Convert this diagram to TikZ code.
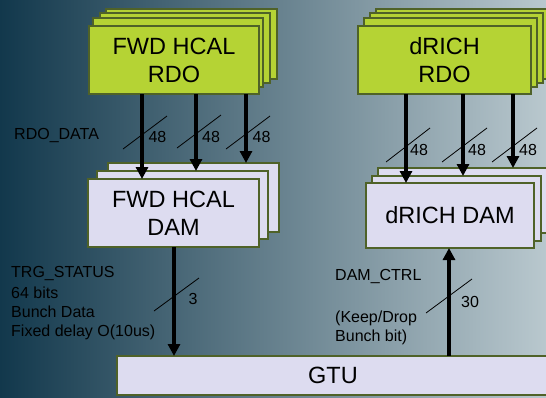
\documentclass[tikz,border=0pt]{standalone}
\usepackage{fontspec}
\setmainfont{Liberation Sans}
\usetikzlibrary{arrows.meta}
\definecolor{bgL}{HTML}{12384C}
\definecolor{bgM}{HTML}{62838F}
\definecolor{bgR}{HTML}{B9C8CE}
\definecolor{rdofill}{HTML}{B5D334}
\definecolor{boxline}{HTML}{4F6228}
\definecolor{damfill}{HTML}{DDDCF0}
\begin{document}
\begin{tikzpicture}[x=1pt,y=-1pt,
  boxbase/.style={draw=boxline, line width=1.5pt, inner sep=0pt, outer sep=0pt, anchor=north west,
    font=\fontsize{23.5}{28}\selectfont, align=center, text=black},
  rdobox/.style={boxbase, fill=rdofill},
  dambox/.style={boxbase, fill=damfill},
  lbl/.style={font=\fontsize{16}{19}\selectfont, align=left, inner sep=0pt, text=black},
  bus/.style={line width=3.6pt, -{Triangle[width=12pt,length=12pt]}},
  slash/.style={line width=0.8pt},
]
\useasboundingbox (0,0) rectangle (546,397);
\clip (0,0) rectangle (546,397);
\shade[left color=bgL, middle color=bgM, right color=bgR] (0,0) rectangle (546,397);

% FWD HCAL RDO stack
\node[rdobox, minimum width=171pt, minimum height=70pt] (rA3) at (106,9) {};
\node[rdobox, minimum width=170pt, minimum height=70pt] (rA2) at (100,13) {};
\node[rdobox, minimum width=170pt, minimum height=69pt] (rA1) at (93,18) {};
\node[rdobox, minimum width=170pt, minimum height=68pt] (rA0) at (89,26) {FWD HCAL\\RDO};

% dRICH RDO stack
\node[rdobox, minimum width=173pt, minimum height=70pt] (rB3) at (376,9) {};
\node[rdobox, minimum width=173pt, minimum height=70pt] (rB2) at (370,13) {};
\node[rdobox, minimum width=173pt, minimum height=69pt] (rB1) at (364,18) {};
\node[rdobox, minimum width=173pt, minimum height=68pt] (rB0) at (358,26) {dRICH\\RDO};

% FWD HCAL DAM stack
\node[dambox, minimum width=171pt, minimum height=69pt] (dA2) at (108,163) {};
\node[dambox, minimum width=171pt, minimum height=68pt] (dA1) at (97,171) {};
\node[dambox, minimum width=171pt, minimum height=68pt] (dA0) at (88,179) {FWD HCAL\\DAM};

% dRICH DAM stack
\node[dambox, minimum width=173pt, minimum height=65pt] (dB2) at (378,168) {};
\node[dambox, minimum width=169pt, minimum height=65pt] (dB1) at (372,176) {};
\node[dambox, minimum width=168pt, minimum height=65pt] (dB0) at (366,183) {dRICH DAM};

% GTU
\node[dambox, minimum width=432pt, minimum height=39pt] (gtu) at (117,356) {GTU};

% x positions of the buses
\coordinate (xa1) at (142,0);
\coordinate (xa2) at (196,0);
\coordinate (xa3) at (246,0);
\coordinate (xb1) at (406,0);
\coordinate (xb2) at (463,0);
\coordinate (xb3) at (513,0);
\coordinate (xt) at (174,0);
\coordinate (xc) at (449,0);

% RDO -> DAM buses
\draw[bus] (rA0.south -| xa1) -- (dA0.north -| xa1);
\draw[bus] (rA0.south -| xa2) -- (dA1.north -| xa2);
\draw[bus] (rA0.south -| xa3) -- (dA2.north -| xa3);
\draw[bus] (rB0.south -| xb1) -- (dB0.north -| xb1);
\draw[bus] (rB0.south -| xb2) -- (dB1.north -| xb2);
\draw[bus] (rB0.south -| xb3) -- (dB2.north -| xb3);

% DAM <-> GTU
\draw[bus] (dA0.south -| xt) -- (gtu.north -| xt);
\draw[bus] (gtu.north -| xc) -- (dB0.south -| xc);

% bus width slashes
\draw[slash] (123,149) -- (167,116);
\draw[slash] (177,148) -- (221,115);
\draw[slash] (226,149) -- (270,116);
\draw[slash] (386,162) -- (430,128);
\draw[slash] (442,162) -- (487,128);
\draw[slash] (492,162) -- (537,128);
\draw[slash] (154,311) -- (199,278);
\draw[slash] (426,313) -- (472,279);

% width labels
\node[lbl] (w1) at (157.5,137) {48};
\node[lbl] (w2) at (211,137) {48};
\node[lbl] (w3) at (261.5,137) {48};
\node[lbl] (w4) at (419,150) {48};
\node[lbl] (w5) at (477,150) {48};
\node[lbl] (w6) at (528,150) {48};
\node[lbl] (w7) at (193,299) {3};
\node[lbl] (w8) at (470,302) {30};

% side labels
\node[lbl, anchor=west] (rdodata) at (14,135) {RDO\_DATA};
\node[lbl, anchor=north west] (trg) at (11,266) {TRG\_STATUS\\[2pt]64 bits\\Bunch Data\\Fixed delay O(10us)};
\node[lbl, anchor=west] (damctrl) at (335,276) {DAM\_CTRL};
\node[lbl, anchor=north west] (keep) at (335,311) {(Keep/Drop\\Bunch bit)};
\end{tikzpicture}
\end{document}
